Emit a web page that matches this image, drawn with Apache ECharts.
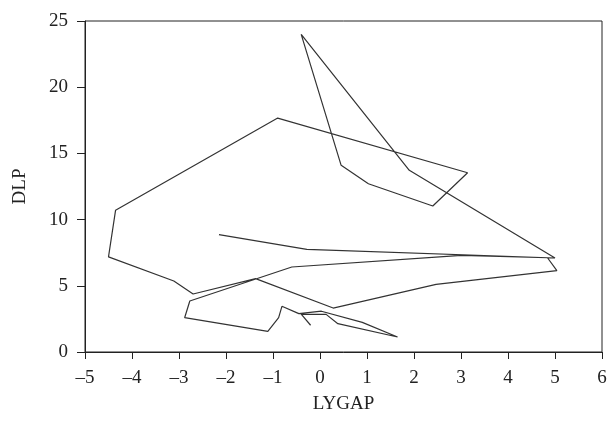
<!DOCTYPE html>
<html>
<head>
<meta charset="utf-8">
<script src="https://cdn.jsdelivr.net/npm/echarts@6/dist/echarts.min.js"></script>
<style>
  html, body { margin: 0; padding: 0; background: #fff; }
  #chart { width: 609px; height: 423px; }
</style>
</head>
<body>
<div id="chart"></div>
<script>
// Trayectoria LYGAP vs DLP (puntos en orden)
const lygap = [
  -2.15, -0.28, 5.00, 1.90, -0.40, 0.45, 1.03, 2.40, 3.14, -0.90,
  -4.35, -4.50, -3.11, -2.70, -1.37, 0.28, 2.47, 5.04, 4.84, 3.01,
  -0.60, -2.77, -2.88, -1.11, -0.88, -0.81, -0.45, 0.03, 0.90, 1.65,
  0.38, 0.13, -0.40, -0.20
];
const dlp = [
  8.86, 7.75, 7.10, 13.72, 23.99, 14.10, 12.71, 11.03, 13.54, 17.67,
  10.70, 7.18, 5.36, 4.38, 5.54, 3.32, 5.11, 6.14, 7.12, 7.30,
  6.42, 3.85, 2.59, 1.56, 2.59, 3.45, 2.90, 3.08, 2.24, 1.13,
  2.14, 2.84, 2.86, 2.02
];
const xTicks = { min: -5, max: 6, interval: 1 };
const yTicks = { min: 0, max: 25, interval: 5 };

const chart = echarts.init(document.getElementById("chart"));

const font = "'Liberation Serif', 'DejaVu Serif', serif";
const axisColor = "#222";

function dash(v) {
  return String(v).replace("-", "\u2013");
}

chart.setOption({
  animation: false,
  grid: {
    left: 85, right: 7, top: 21, bottom: 71,
    outerBoundsMode: "none",
    containLabel: false,
    show: true, borderColor: axisColor, borderWidth: 1
  },
  xAxis: {
    type: "value",
    min: xTicks.min, max: xTicks.max, interval: xTicks.interval,
    name: "LYGAP",
    nameLocation: "middle",
    nameGap: 43,
    nameTextStyle: { fontFamily: font, fontSize: 19, color: "#222" },
    axisLine: { show: true, onZero: false, lineStyle: { color: axisColor, width: 1 } },
    axisTick: { show: true, length: 7, lineStyle: { color: axisColor } },
    axisLabel: { margin: 17, fontFamily: font, fontSize: 19, color: "#222", formatter: dash },
    splitLine: { show: false }
  },
  yAxis: {
    type: "value",
    min: yTicks.min, max: yTicks.max, interval: yTicks.interval,
    name: "DLP",
    nameLocation: "middle",
    nameGap: 55,
    nameTextStyle: { fontFamily: font, fontSize: 19, color: "#222" },
    axisLine: { show: true, onZero: false, lineStyle: { color: axisColor, width: 1 } },
    axisTick: { show: true, length: 8, lineStyle: { color: axisColor } },
    axisLabel: { margin: 17, fontFamily: font, fontSize: 19, color: "#222" },
    splitLine: { show: false }
  },
  series: [
    {
      type: "line",
      data: lygap.map((x, i) => [x, dlp[i]]),
      showSymbol: false,
      symbol: "none",
      lineStyle: { color: "#333", width: 1.2 },
      z: 3
    }
  ]
});
</script>
</body>
</html>
